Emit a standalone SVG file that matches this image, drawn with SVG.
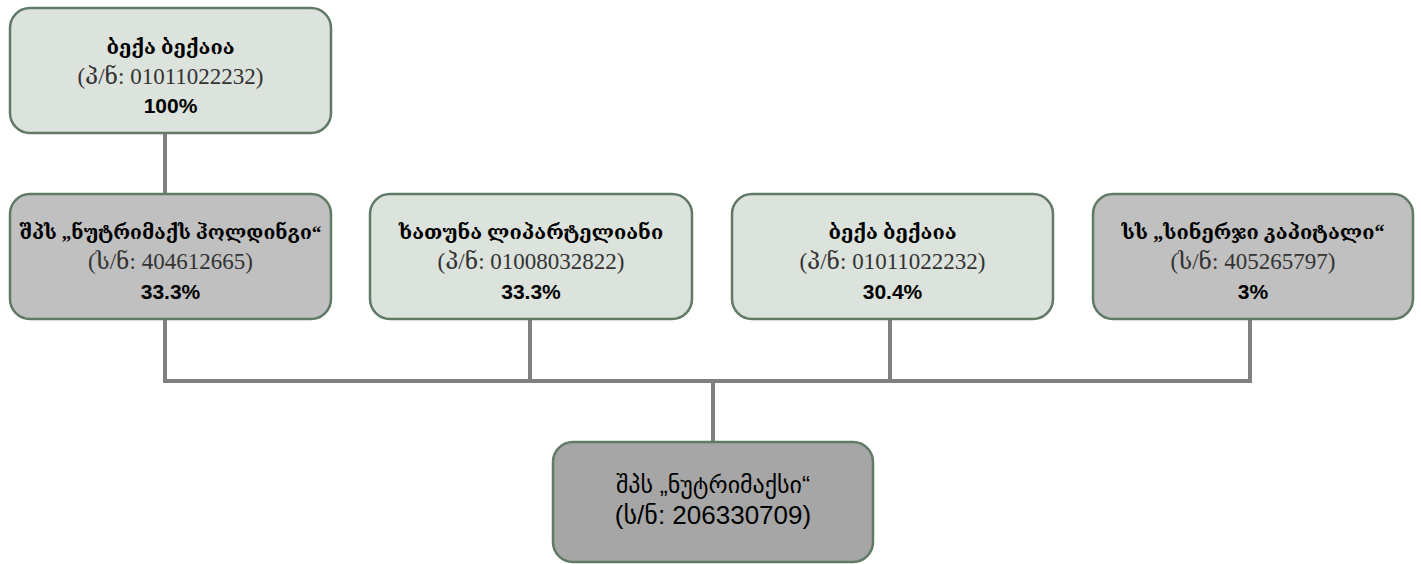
<svg xmlns="http://www.w3.org/2000/svg" width="1421" height="564" viewBox="0 0 1421 564">
  <style>
    .box { stroke: #607a66; stroke-width: 2.5; }
    .light { fill: #dce2dc; }
    .mid { fill: #c0c0c0; }
    .dark { fill: #a6a6a6; }
    .conn line { stroke: #808080; stroke-width: 4; }
    text { text-anchor: middle; }
    .name { font-family: "Liberation Serif", "DejaVu Serif", "DejaVu Sans", serif; font-size: 20px; font-weight: bold; fill: #000; }
    .name.long { font-size: 19.3px; }
    .code { font-family: "Liberation Serif", "DejaVu Serif", serif; font-size: 23px; fill: #333; }
    .pct { font-family: "Liberation Sans", "DejaVu Sans", sans-serif; font-size: 21px; font-weight: bold; fill: #000; }
    .main1 { font-family: "Liberation Sans", "DejaVu Sans", sans-serif; font-size: 24px; fill: #000; }
    .main2 { font-family: "Liberation Sans", "DejaVu Sans", sans-serif; font-size: 26px; fill: #000; }
  </style>

  <!-- connectors -->
  <g id="connectors" class="conn">
    <line x1="165" y1="133" x2="165" y2="194"/>
    <line x1="165" y1="319" x2="165" y2="381"/>
    <line x1="530" y1="319" x2="530" y2="381"/>
    <line x1="890" y1="319" x2="890" y2="381"/>
    <line x1="1250" y1="319" x2="1250" y2="381"/>
    <line x1="163" y1="381" x2="1252" y2="381"/>
    <line x1="713" y1="381" x2="713" y2="442"/>
  </g>

  <!-- top shareholder -->
  <g id="owner-top">
    <rect class="box light" x="10" y="8" width="321" height="125" rx="20"/>
    <text class="name" x="170.5" y="54">ბექა ბექაია</text>
    <text class="code" x="170.5" y="84">(პ/ნ: 01011022232)</text>
    <text class="pct" x="170.5" y="113">100%</text>
  </g>

  <!-- second row shareholders -->
  <g id="holding">
    <rect class="box mid" x="10" y="194" width="321" height="125" rx="20"/>
    <text class="name long" x="170.5" y="239">შპს „ნუტრიმაქს ჰოლდინგი“</text>
    <text class="code" x="170.5" y="269">(ს/ნ: 404612665)</text>
    <text class="pct" x="170.5" y="299">33.3%</text>
  </g>

  <g id="khatuna">
    <rect class="box light" x="370" y="194" width="322" height="125" rx="20"/>
    <text class="name" x="531" y="239">ხათუნა ლიპარტელიანი</text>
    <text class="code" x="531" y="269">(პ/ნ: 01008032822)</text>
    <text class="pct" x="531" y="299">33.3%</text>
  </g>

  <g id="beka">
    <rect class="box light" x="732" y="194" width="321" height="125" rx="20"/>
    <text class="name" x="892.5" y="239">ბექა ბექაია</text>
    <text class="code" x="892.5" y="269">(პ/ნ: 01011022232)</text>
    <text class="pct" x="892.5" y="299">30.4%</text>
  </g>

  <g id="synergy">
    <rect class="box mid" x="1093" y="194" width="320" height="125" rx="20"/>
    <text class="name" x="1253" y="239">სს „სინერჯი კაპიტალი“</text>
    <text class="code" x="1253" y="269">(ს/ნ: 405265797)</text>
    <text class="pct" x="1253" y="299">3%</text>
  </g>

  <!-- company -->
  <g id="company">
    <rect class="box dark" x="553" y="442" width="320" height="120" rx="20"/>
    <text class="main1" x="713" y="493">შპს „ნუტრიმაქსი“</text>
    <text class="main2" x="713" y="524">(ს/ნ: 206330709)</text>
  </g>
</svg>
